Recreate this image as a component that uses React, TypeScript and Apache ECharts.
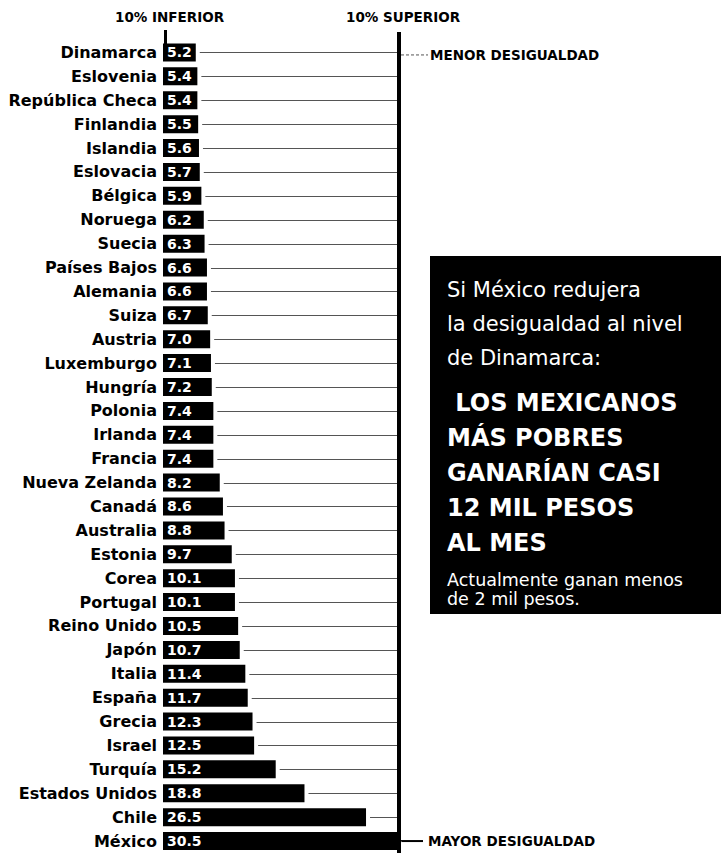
import React, { useEffect, useRef } from "react";
import * as echarts from "echarts";

const categories = [
  "Dinamarca", "Eslovenia", "República Checa", "Finlandia", "Islandia", "Eslovacia",
  "Bélgica", "Noruega", "Suecia", "Países Bajos", "Alemania", "Suiza", "Austria",
  "Luxemburgo", "Hungría", "Polonia", "Irlanda", "Francia", "Nueva Zelanda", "Canadá",
  "Australia", "Estonia", "Corea", "Portugal", "Reino Unido", "Japón", "Italia",
  "España", "Grecia", "Israel", "Turquía", "Estados Unidos", "Chile", "México",
];
const ratios = [
  5.2, 5.4, 5.4, 5.5, 5.6, 5.7, 5.9, 6.2, 6.3, 6.6, 6.6, 6.7, 7.0, 7.1, 7.2, 7.4, 7.4,
  7.4, 8.2, 8.6, 8.8, 9.7, 10.1, 10.1, 10.5, 10.7, 11.4, 11.7, 12.3, 12.5, 15.2, 18.8,
  26.5, 30.5,
];
const headerLeft = "10% INFERIOR";
const headerRight = "10% SUPERIOR";
const topNote = "MENOR DESIGUALDAD";
const bottomNote = "MAYOR DESIGUALDAD";
const introLines = ["Si México redujera", "la desigualdad al nivel", "de Dinamarca:"];
const boldLines = [" LOS MEXICANOS", "MÁS POBRES", "GANARÍAN CASI", "12 MIL PESOS", "AL MES"];
const footLines = ["Actualmente ganan menos", "de 2 mil pesos."];

const FONT = "'DejaVu Sans', sans-serif";
const AXIS_MIN = 1.1;
const AXIS_MAX = 30.5;

export default function App() {
  const ref = useRef<HTMLDivElement>(null);
  useEffect(() => {
    document.body.style.margin = "0";
    const chart = echarts.init(ref.current!, null, { renderer: "svg" });
    chart.setOption({
      animation: false,
      backgroundColor: "#fff",
      grid: { left: 163, top: 40.5, width: 235, height: 814 },
      xAxis: { type: "value", min: AXIS_MIN, max: AXIS_MAX, show: false },
      yAxis: {
        type: "category",
        inverse: true,
        data: categories,
        axisLine: { show: false },
        axisTick: { show: false },
        splitLine: { show: false },
        axisLabel: {
          margin: 6,
          color: "#000",
          fontFamily: FONT,
          fontWeight: "bold",
          fontSize: 16,
        },
      },
      series: [
        {
          type: "custom",
          silent: true,
          data: ratios.map((v, i) => [v, i]),
          encode: { x: 0, y: 1 },
          renderItem: (params: any, api: any) => {
            const v = api.value(0);
            const idx = api.value(1);
            const s = api.coord([v, idx]);
            const e = api.coord([AXIS_MAX, idx]);
            return {
              type: "line",
              shape: { x1: s[0] + 4, y1: Math.round(s[1]) + 0.5, x2: e[0], y2: Math.round(e[1]) + 0.5 },
              style: { stroke: "#555", lineWidth: 1 },
            };
          },
          z: 1,
        },
        {
          type: "bar",
          data: ratios,
          barWidth: 18,
          itemStyle: { color: "#000" },
          z: 2,
          label: {
            show: true,
            position: "insideLeft",
            distance: 4,
            color: "#fff",
            fontFamily: FONT,
            fontWeight: "bold",
            fontSize: 14,
            formatter: (p: any) => Number(p.value).toFixed(1),
          },
        },
      ],
    });

    const xLeft = chart.convertToPixel({ xAxisIndex: 0 }, AXIS_MIN) as number;
    const xRight = chart.convertToPixel({ xAxisIndex: 0 }, AXIS_MAX) as number;
    const yFirst = chart.convertToPixel({ yAxisIndex: 0 }, categories[0]) as number;
    const yLast = chart.convertToPixel({ yAxisIndex: 0 }, categories[categories.length - 1]) as number;

    const boxX = 430;
    const boxY = 256;
    const textX = 447;
    const graphics: any[] = [
      { type: "line", shape: { x1: xLeft + 2.5, y1: 30, x2: xLeft + 2.5, y2: yFirst - 8 }, style: { stroke: "#000", lineWidth: 3 } },
      { type: "line", shape: { x1: xRight + 1, y1: 32, x2: xRight + 1, y2: 853 }, style: { stroke: "#000", lineWidth: 4 }, z: 10 },
      { type: "text", left: 115, top: 10, style: { text: headerLeft, fontFamily: FONT, fontWeight: "bold", fontSize: 13.5, fill: "#000" } },
      { type: "text", left: 346, top: 10, style: { text: headerRight, fontFamily: FONT, fontWeight: "bold", fontSize: 13.5, fill: "#000" } },
      { type: "line", shape: { x1: xRight + 3, y1: yFirst + 2.5, x2: 428, y2: yFirst + 2.5 }, style: { stroke: "#555", lineWidth: 1, lineDash: [3, 2] } },
      { type: "text", x: 430, y: yFirst + 3, style: { text: topNote, fontFamily: FONT, fontWeight: "bold", fontSize: 13.5, fill: "#000", verticalAlign: "middle" } },
      { type: "line", shape: { x1: xRight + 3, y1: yLast, x2: 423, y2: yLast }, style: { stroke: "#000", lineWidth: 2 } },
      { type: "text", x: 428, y: yLast, style: { text: bottomNote, fontFamily: FONT, fontWeight: "bold", fontSize: 13.5, fill: "#000", verticalAlign: "middle" } },
      { type: "rect", shape: { x: boxX, y: boxY, width: 721 - boxX, height: 358 }, style: { fill: "#000" } },
    ];
    introLines.forEach((t, i) => {
      graphics.push({ type: "text", x: textX, y: 290 + i * 34, style: { text: t, fontFamily: FONT, fontSize: 21, fill: "#fff", verticalAlign: "middle" } });
    });
    boldLines.forEach((t, i) => {
      graphics.push({ type: "text", x: textX, y: 403 + i * 35, style: { text: t, fontFamily: FONT, fontWeight: "bold", fontSize: 24, fill: "#fff", verticalAlign: "middle" } });
    });
    footLines.forEach((t, i) => {
      graphics.push({ type: "text", x: textX, y: 580 + i * 19, style: { text: t, fontFamily: FONT, fontSize: 17.5, fill: "#fff", verticalAlign: "middle" } });
    });
    chart.setOption({ graphic: graphics });

    return () => chart.dispose();
  }, []);
  return <div ref={ref} style={{ position: "absolute", left: 0, top: 0, width: 721, height: 853 }} />;
}
